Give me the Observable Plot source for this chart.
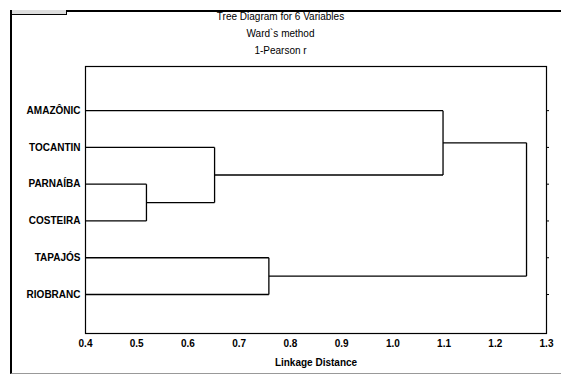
<!DOCTYPE html>
<html>
<head>
<meta charset="utf-8">
<script src="https://cdn.jsdelivr.net/npm/d3@7"></script>
<script src="https://cdn.jsdelivr.net/npm/@observablehq/plot@0.6"></script>
<style>
  html, body { margin: 0; padding: 0; background: #fff; }
  #page { position: relative; width: 561px; height: 377px; overflow: hidden; font-family: "Liberation Sans Narrow", "Liberation Sans", Arial, sans-serif; }
  #border { position: absolute; left: 10px; top: 10px; width: 560px; height: 364px; border-left: 2px solid #000; border-top: 2px solid #000; border-bottom: 1px solid #999; box-sizing: border-box; }
  #btn { position: absolute; left: 11px; top: 10px; width: 54px; height: 4px; border: 1px solid #000; border-top: 0; background: #ddd; }
  #titles { height: 60px; text-align: center; font-size: 10px; color: #000; position: relative; }
  #titles div { position: absolute; left: 0; width: 561px; }
  #chart { position: relative; }
</style>
</head>
<body>
<div id="page">
  <div id="border"></div>
  <div id="btn"></div>
  <div id="titles">
    <div style="top:11px">Tree Diagram for 6 Variables</div>
    <div style="top:28px">Ward`s method</div>
    <div style="top:45px">1-Pearson r</div>
  </div>
  <div id="chart"></div>
</div>
<script>
// Leaves, top to bottom
const leaves = ["AMAZÔNIC", "TOCANTIN", "PARNAÍBA", "COSTEIRA", "TAPAJÓS", "RIOBRANC"];
// Merges: [childA, childB, linkage distance]; leaf ids 0..5, new nodes 6..
const mergeA = [2, 1, 0, 4, 8];
const mergeB = [3, 6, 7, 5, 9];
const mergeH = [0.519, 0.652, 1.098, 0.758, 1.261];
const xTicks = [0.4, 0.5, 0.6, 0.7, 0.8, 0.9, 1.0, 1.1, 1.2, 1.3];

// Build node positions
const nodeY = leaves.map((_, i) => i);
const nodeX = leaves.map(() => 0.4);
const segs = [];
mergeA.forEach((a, k) => {
  const b = mergeB[k], h = mergeH[k];
  segs.push({x1: nodeX[a], y1: nodeY[a], x2: h, y2: nodeY[a]});
  segs.push({x1: nodeX[b], y1: nodeY[b], x2: h, y2: nodeY[b]});
  segs.push({x1: h, y1: nodeY[a], x2: h, y2: nodeY[b]});
  nodeX.push(h);
  nodeY.push((nodeY[a] + nodeY[b]) / 2);
});

const plot = Plot.plot({
  width: 561,
  height: 317,
  marginTop: 6,
  marginBottom: 44,
  marginLeft: 85,
  marginRight: 15,
  style: { fontFamily: '"Liberation Sans Narrow", "Liberation Sans", Arial, sans-serif', fontSize: "10px", color: "#000", background: "transparent" },
  x: { domain: [0.4, 1.3] },
  y: { domain: [6.06, -1.2] },
  marks: [
    Plot.frame({ stroke: "#000", strokeWidth: 1.2 }),
    Plot.axisX({ ticks: xTicks, tickFormat: d3.format(".1f"), tickSize: 0, tickPadding: 6, fontWeight: "bold", label: "Linkage Distance", labelAnchor: "center", labelArrow: "none", labelOffset: 32 }),
    Plot.axisY({ ticks: d3.range(leaves.length), tickFormat: i => leaves[i], tickSize: 0, tickPadding: 5, fontWeight: "bold", label: null }),
    Plot.axisY({ anchor: "right", ticks: d3.range(leaves.length), tickFormat: () => "", tickSize: 2, label: null }),
    Plot.link(segs, { x1: "x1", y1: "y1", x2: "x2", y2: "y2", stroke: "#000", strokeWidth: 1.3 })
  ]
});
document.getElementById("chart").appendChild(plot);
</script>
</body>
</html>
